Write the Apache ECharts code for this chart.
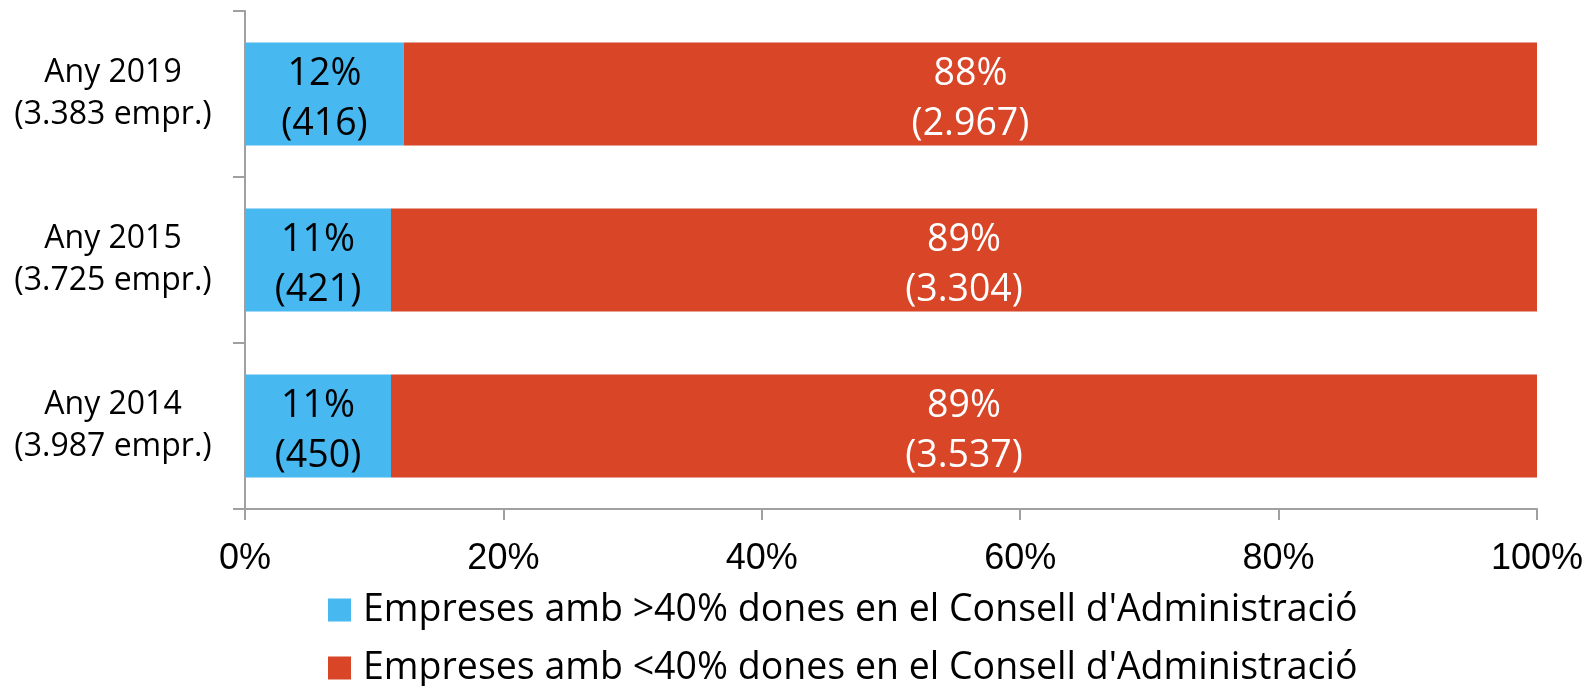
<!DOCTYPE html>
<html>
<head>
<meta charset="utf-8">
<script src="https://cdn.jsdelivr.net/npm/echarts@6/dist/echarts.min.js"></script>
<style>
  html, body { margin: 0; padding: 0; background: #fff; }
  #chart { width: 1589px; height: 686px; }
</style>
</head>
<body>
<div id="chart"></div>
<script>
// categories bottom -> top
const categories = ['Any 2014\n(3.987 empr.)', 'Any 2015\n(3.725 empr.)', 'Any 2019\n(3.383 empr.)'];
const seriesNames = [
  "Empreses amb >40% dones en el Consell d'Administració",
  "Empreses amb <40% dones en el Consell d'Administració"
];
// share of companies (%)
const sharePlus40 = [11.3, 11.3, 12.3];
const shareMinus40 = [88.7, 88.7, 87.7];
// number of companies
const countPlus40 = ['450', '421', '416'];
const countMinus40 = ['3.537', '3.304', '2.967'];
const xTicks = [0, 20, 40, 60, 80, 100];

const font = '"Open Sans", "Noto Sans", sans-serif';
const chart = echarts.init(document.getElementById('chart'));

function labelFmt(counts) {
  return p => Math.round(p.value) + '%\n(' + counts[p.dataIndex] + ')';
}

// one legend per row, stacked vertically
const legendTops = [591, 649];
const legends = seriesNames.map((name, i) => ({
  left: 328,
  top: legendTops[i],
  padding: 0,
  itemWidth: 23,
  itemHeight: 23,
  icon: 'rect',
  textStyle: { fontSize: 37.5, color: '#000', fontFamily: font, padding: [0, 0, 0, 7], lineHeight: 38 },
  data: [name]
}));

chart.setOption({
  animation: false,
  textStyle: { fontFamily: font },
  grid: { left: 245, right: 52, top: 11, bottom: 177, containLabel: false },
  legend: legends,
  xAxis: {
    type: 'value',
    min: xTicks[0],
    max: xTicks[xTicks.length - 1],
    interval: 20,
    splitLine: { show: false },
    axisLine: { show: true, lineStyle: { color: '#a0a0a0', width: 2 } },
    axisTick: { show: true, length: 11, lineStyle: { color: '#a0a0a0', width: 2 } },
    axisLabel: {
      formatter: '{value}%',
      fontSize: 36,
      color: '#000',
      fontFamily: '"Liberation Sans", Arial, sans-serif',
      margin: 32
    }
  },
  yAxis: {
    type: 'category',
    data: categories,
    axisLine: { show: true, lineStyle: { color: '#a0a0a0', width: 2 } },
    axisTick: { show: true, length: 12, lineStyle: { color: '#a0a0a0', width: 2 } },
    axisLabel: {
      fontSize: 32,
      lineHeight: 42,
      color: '#000',
      align: 'center',
      margin: 132
    }
  },
  series: [
    {
      name: seriesNames[0],
      type: 'bar',
      stack: 'total',
      barWidth: 103,
      data: sharePlus40,
      itemStyle: { color: '#48b8f0' },
      label: {
        show: true,
        position: 'inside',
        offset: [0, 5],
        color: '#000',
        fontSize: 37.5,
        lineHeight: 50,
        formatter: labelFmt(countPlus40)
      }
    },
    {
      name: seriesNames[1],
      type: 'bar',
      stack: 'total',
      barWidth: 103,
      data: shareMinus40,
      itemStyle: { color: '#d84527' },
      label: {
        show: true,
        position: 'inside',
        offset: [0, 5],
        color: '#fff',
        fontSize: 37.5,
        lineHeight: 50,
        formatter: labelFmt(countMinus40)
      }
    }
  ]
});
</script>
</body>
</html>
